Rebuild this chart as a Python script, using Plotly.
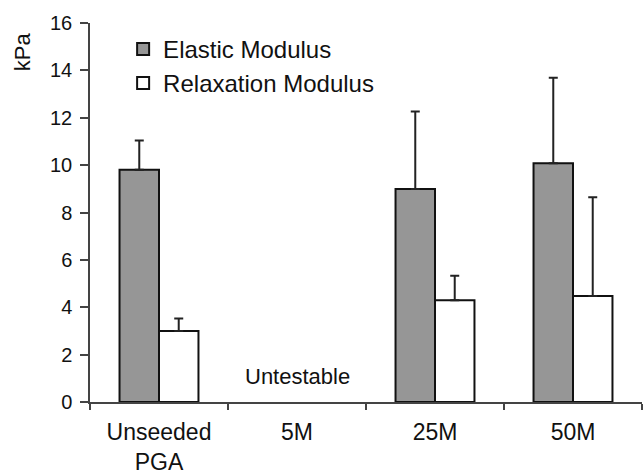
import plotly.graph_objects as go

categories = ["Unseeded<br>PGA", "5M", "25M", "50M"]
elastic = [9.80, None, 8.99, 10.08]
elastic_err = [1.24, 0, 3.27, 3.61]
relax = [3.00, None, 4.30, 4.47]
relax_err = [0.53, 0, 1.03, 4.17]
y_ticks = [0, 2, 4, 6, 8, 10, 12, 14, 16]

FONT = "Arial, Liberation Sans, Helvetica, sans-serif"

fig = go.Figure()
fig.add_trace(go.Bar(
    x=categories, y=elastic, name="Elastic Modulus",
    marker=dict(color="#969696", line=dict(color="#111111", width=2)),
    error_y=dict(type="data", symmetric=False, array=elastic_err,
                 arrayminus=[0] * 4, color="#222222", thickness=2, width=4.5),
))
fig.add_trace(go.Bar(
    x=categories, y=relax, name="Relaxation Modulus",
    marker=dict(color="#ffffff", line=dict(color="#111111", width=2)),
    error_y=dict(type="data", symmetric=False, array=relax_err,
                 arrayminus=[0] * 4, color="#222222", thickness=2, width=4.5),
))

fig.add_annotation(x="5M", y=1.06, xref="x", yref="y", text="Untestable",
                   showarrow=False, font=dict(family=FONT, size=22, color="#111"))
fig.add_annotation(x=-0.123, y=0.923, xref="paper", yref="paper", text="kPa",
                   xanchor="center", yanchor="middle",
                   showarrow=False, textangle=-90,
                   font=dict(family=FONT, size=22, color="#111"))

fig.update_layout(
    width=643, height=474,
    margin=dict(l=90, r=1, t=23, b=72, autoexpand=False),
    paper_bgcolor="white", plot_bgcolor="white",
    barmode="group", bargap=0.428, bargroupgap=0,
    font=dict(family=FONT, color="#111"),
    legend=dict(x=0.06, y=0.99, xanchor="left", yanchor="top",
                bgcolor="rgba(0,0,0,0)", font=dict(family=FONT, size=24, color="#111"),
                tracegroupgap=0, itemclick=False),
    xaxis=dict(showline=True, linecolor="#444", linewidth=1.5,
               ticks="outside", tickson="boundaries", ticklen=6, tickcolor="#444",
               tickwidth=1.5, tickfont=dict(family=FONT, size=23, color="#111"),
               showgrid=False, range=[-0.5, 3.5], fixedrange=True,
               ticklabelstandoff=9),
    yaxis=dict(range=[0, 16], tickvals=y_ticks, showline=True, linecolor="#444",
               linewidth=1.5, ticks="outside", ticklen=8, tickcolor="#444",
               tickwidth=1.5, tickfont=dict(family=FONT, size=20, color="#111"),
               showgrid=False, zeroline=False, ticklabelstandoff=4),
)

fig.write_html("out.html")
